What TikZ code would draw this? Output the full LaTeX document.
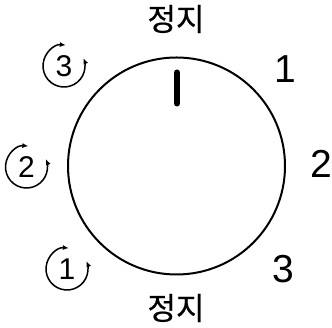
\documentclass[tikz,border=0pt]{standalone}
\usepackage{fontspec}
\setmainfont{Liberation Sans}
\newfontfamily\kr[FakeBold=0.6]{Noto Sans CJK KR}
\usetikzlibrary{arrows.meta}
\begin{document}
\begin{tikzpicture}[x=1pt,y=1pt,
  kor/.style={font=\kr\fontsize{31}{31}\selectfont, inner sep=0pt},
  num/.style={font=\fontsize{39}{39}\selectfont, inner sep=0pt},
  smalldigit/.style={font=\fontsize{30}{30}\selectfont, inner sep=0pt},
  rot/.style={line width=1.5pt, {Latex[length=6pt,width=5pt]}-{Latex[length=6pt,width=5pt]}}
]
\useasboundingbox (0,0) rectangle (332,328);
\node[circle, minimum size=217pt, line width=2pt, draw, inner sep=0pt] (dial) at (176.5,162) {};
\coordinate (ptrtop) at (177,255.5);
\coordinate (ptrbot) at (177,224.5);
\draw[line width=6pt, line cap=round] (ptrtop) -- (ptrbot);
\node[kor] (stoptop) at (176,309) {정지};
\node[kor] (stopbot) at (176,20) {정지};
\node[num] (n1) at (285.5,259) {1};
\node[num] (n2) at (321.5,164.5) {2};
\node[num] (n3) at (283,59) {3};
\node[smalldigit] (s3) at (64,262) {3};
\node[smalldigit] (s2) at (26.5,161) {2};
\node[smalldigit] (s1) at (67,59) {1};
\foreach \s in {s1,s2,s3}{
  \draw[rot] ([shift={(85:21pt)}]\s.center) arc[start angle=85, end angle=382, radius=21pt];
}
\end{tikzpicture}
\end{document}
